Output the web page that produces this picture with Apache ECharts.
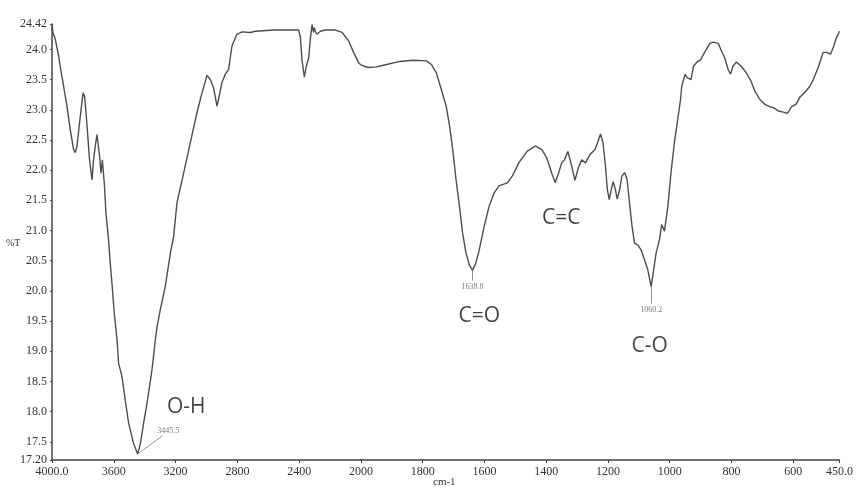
<!DOCTYPE html>
<html>
<head>
<meta charset="utf-8">
<script src="https://cdn.jsdelivr.net/npm/echarts@6/dist/echarts.min.js"></script>
<style>html,body{margin:0;padding:0;background:#fff;}#c{width:856px;height:488px;}</style>
</head>
<body>
<div id="c"></div>
<script>
// High wavenumber region (4000 - 2000 cm-1)
const waveHigh = [4000,3994,3979,3957,3946,3925,3903,3882,3860,3849,3838,3817,3799,3789,3773,3757,3741,3731,3720,3709,3700,3692,3683,3674,3666,3660,3651,3634,3623,3612,3597,3579,3569,3547,3526,3504,3472,3445.5,3428,3407,3385,3353,3331,3320,3299,3267,3234,3213,3191,3148,3105,3062,3029,2997,2975,2954,2932,2922,2900,2878,2857,2835,2803,2770,2717,2684,2566,2404,2393,2382,2367,2354,2339,2328,2317,2307,2302,2296,2285,2263,2231,2166,2122,2080,2048,2016,2000];
const transHigh = [24.42,24.28,24.17,23.89,23.70,23.39,23.06,22.67,22.34,22.29,22.40,22.89,23.28,23.22,22.73,22.17,21.84,22.17,22.40,22.59,22.40,22.23,21.95,22.17,22.17,21.73,21.29,20.85,20.46,20.13,19.63,19.19,18.80,18.58,18.19,17.81,17.47,17.30,17.47,17.81,18.14,18.69,19.19,19.41,19.69,20.07,20.62,20.90,21.46,21.95,22.45,22.95,23.28,23.57,23.50,23.36,23.06,23.17,23.45,23.59,23.67,24.06,24.25,24.29,24.28,24.30,24.32,24.32,24.22,23.83,23.54,23.72,23.85,24.17,24.41,24.28,24.36,24.30,24.25,24.30,24.32,24.32,24.28,24.14,23.95,23.78,23.74];
// Low wavenumber region (2000 - 450 cm-1), expanded scale
const waveLow = [2000,1976,1949,1917,1874,1831,1788,1772,1756,1740,1724,1713,1703,1692,1681,1671,1660,1649,1638.8,1628,1617,1601,1585,1569,1553,1526,1510,1489,1462,1435,1414,1398,1382,1371,1360,1350,1341,1330,1319,1307,1296,1285,1273,1258,1242,1232,1224,1216,1208,1202,1196,1189,1183,1176,1170,1162,1155,1146,1138,1130,1122,1114,1103,1093,1082,1071,1060.2,1052,1044,1033,1026,1017,1006,996,985,974,965,961,950,943,931,923,913,900,887,870,859,843,832,822,811,803,795,784,768,752,739,724,708,692,676,663,648,632,619,605,591,578,562,546,535,519,503,492,479,468,460,450];
const transLow = [23.74,23.70,23.71,23.75,23.80,23.82,23.81,23.75,23.61,23.34,23.06,22.73,22.34,21.84,21.40,20.96,20.63,20.43,20.34,20.46,20.68,21.07,21.40,21.62,21.74,21.79,21.90,22.12,22.31,22.40,22.34,22.20,21.95,21.79,21.95,22.12,22.17,22.31,22.10,21.83,22.04,22.17,22.12,22.26,22.34,22.48,22.60,22.45,22.06,21.68,21.51,21.68,21.81,21.68,21.52,21.68,21.90,21.96,21.84,21.45,21.07,20.79,20.76,20.68,20.52,20.35,20.07,20.35,20.63,20.85,21.10,20.99,21.40,21.95,22.45,22.84,23.17,23.39,23.59,23.53,23.50,23.72,23.78,23.83,23.95,24.10,24.12,24.10,23.97,23.86,23.67,23.59,23.72,23.79,23.72,23.61,23.50,23.31,23.17,23.09,23.05,23.03,22.98,22.96,22.94,23.05,23.09,23.21,23.29,23.39,23.50,23.70,23.95,23.95,23.92,24.06,24.19,24.30];

const xTicksHigh = [4000,3600,3200,2800,2400,2000];
const xTicksLow = [1800,1600,1400,1200,1000,800,600,450];
const yTicks = [17.2,17.5,18.0,18.5,19.0,19.5,20.0,20.5,21.0,21.5,22.0,22.5,23.0,23.5,24.0,24.42];

// annotations: [wavenumber, %T, text]
const bandLabelsHigh = [[3131,18.08,'O-H']];
const bandLabelsLow = [[1617,19.59,'C=O'],[1351,21.20,'C=C'],[1065,19.09,'C-O']];
const peakLabelsHigh = [[3247,17.69,'3445.5']];
const peakLabelsLow = [[1638.8,20.07,'1638.8'],[1060.2,19.68,'1060.2']];
const leadersHigh = [[3445.5,17.30,3285,17.60]];
const leadersLow = [[1638.8,20.34,1638.8,20.17],[1060.2,20.07,1060.2,19.79]];

const zip = (a,b) => a.map((v,i)=>[v,b[i]]);
const lineColor = '#4d4d4d';
const axisColor = '#444';
const serif = '"Liberation Serif","DejaVu Serif",serif';

function leaderLines(arr){
  return arr.map(l => [{coord:[l[0],l[1]]},{coord:[l[2],l[3]]}]);
}
function textSeries(idx, arr, size, family, color){
  return {
    type:'scatter', xAxisIndex:idx, yAxisIndex:idx, symbolSize:0, silent:true,
    data: arr.map(d=>({value:[d[0],d[1]], name:d[2]})),
    label:{show:true, position:'inside', formatter:p=>p.name, fontSize:size, fontFamily:family, color:color},
    z:5
  };
}

const chart = echarts.init(document.getElementById('c'), null, {renderer:'canvas'});
const common = {min:17.2, max:24.42};
chart.setOption({
  animation:false,
  backgroundColor:'#fff',
  grid:[
    {left:52, top:24, width:309, height:436},
    {left:361, top:24, width:482, height:436}
  ],
  xAxis:[
    {type:'value', gridIndex:0, min:2000, max:4000, interval:400, inverse:true,
     axisLine:{lineStyle:{color:axisColor,width:1.5}}, splitLine:{show:false},
     axisTick:{length:3, lineStyle:{color:axisColor}},
     axisLabel:{fontFamily:serif, fontSize:12, color:'#333', margin:6,
       formatter:v=> v===4000 ? '4000.0' : String(v)}},
    {type:'value', gridIndex:1, min:450, max:2000, inverse:true,
     axisLine:{lineStyle:{color:axisColor,width:1.5}}, splitLine:{show:false},
     axisTick:{length:3, lineStyle:{color:axisColor}, customValues:xTicksLow},
     axisLabel:{fontFamily:serif, fontSize:12, color:'#333', margin:6, customValues:xTicksLow,
       formatter:v=> v===450 ? '450.0' : String(v)}}
  ],
  yAxis:[
    {type:'value', gridIndex:0, min:common.min, max:common.max,
     axisLine:{show:true, lineStyle:{color:axisColor,width:1.5}}, splitLine:{show:false},
     axisTick:{show:true, length:2, lineStyle:{color:axisColor}, customValues:yTicks},
     axisLabel:{fontFamily:serif, fontSize:12, color:'#333', margin:5, customValues:yTicks,
       formatter:v=> (Math.abs(v-17.2)<1e-6 ? '17.20' : Math.abs(v-24.42)<1e-6 ? '24.42' : v.toFixed(1))}},
    {type:'value', gridIndex:1, min:common.min, max:common.max, show:false}
  ],
  graphic:[
    {type:'text', left:6, top:238, style:{text:'%T', font:'10px '+serif, fill:'#333'}},
    {type:'text', left:433, top:477, style:{text:'cm-1', font:'11px '+serif, fill:'#333'}}
  ],
  series:[
    {type:'line', xAxisIndex:0, yAxisIndex:0, data:zip(waveHigh,transHigh), showSymbol:false,
     lineStyle:{color:lineColor,width:1.4}, silent:true,
     markLine:{silent:true, symbol:'none', label:{show:false}, lineStyle:{color:'#777',width:0.8,type:'solid'}, data:leaderLines(leadersHigh)}},
    {type:'line', xAxisIndex:1, yAxisIndex:1, data:zip(waveLow,transLow), showSymbol:false,
     lineStyle:{color:lineColor,width:1.4}, silent:true,
     markLine:{silent:true, symbol:'none', label:{show:false}, lineStyle:{color:'#777',width:0.8,type:'solid'}, data:leaderLines(leadersLow)}},
    textSeries(0, bandLabelsHigh, 21, '"Open Sans","Noto Sans",sans-serif', '#111'),
    textSeries(1, bandLabelsLow, 21, '"Open Sans","Noto Sans",sans-serif', '#111'),
    textSeries(0, peakLabelsHigh, 8, serif, '#555'),
    textSeries(1, peakLabelsLow, 8, serif, '#555')
  ]
});
</script>
</body>
</html>
